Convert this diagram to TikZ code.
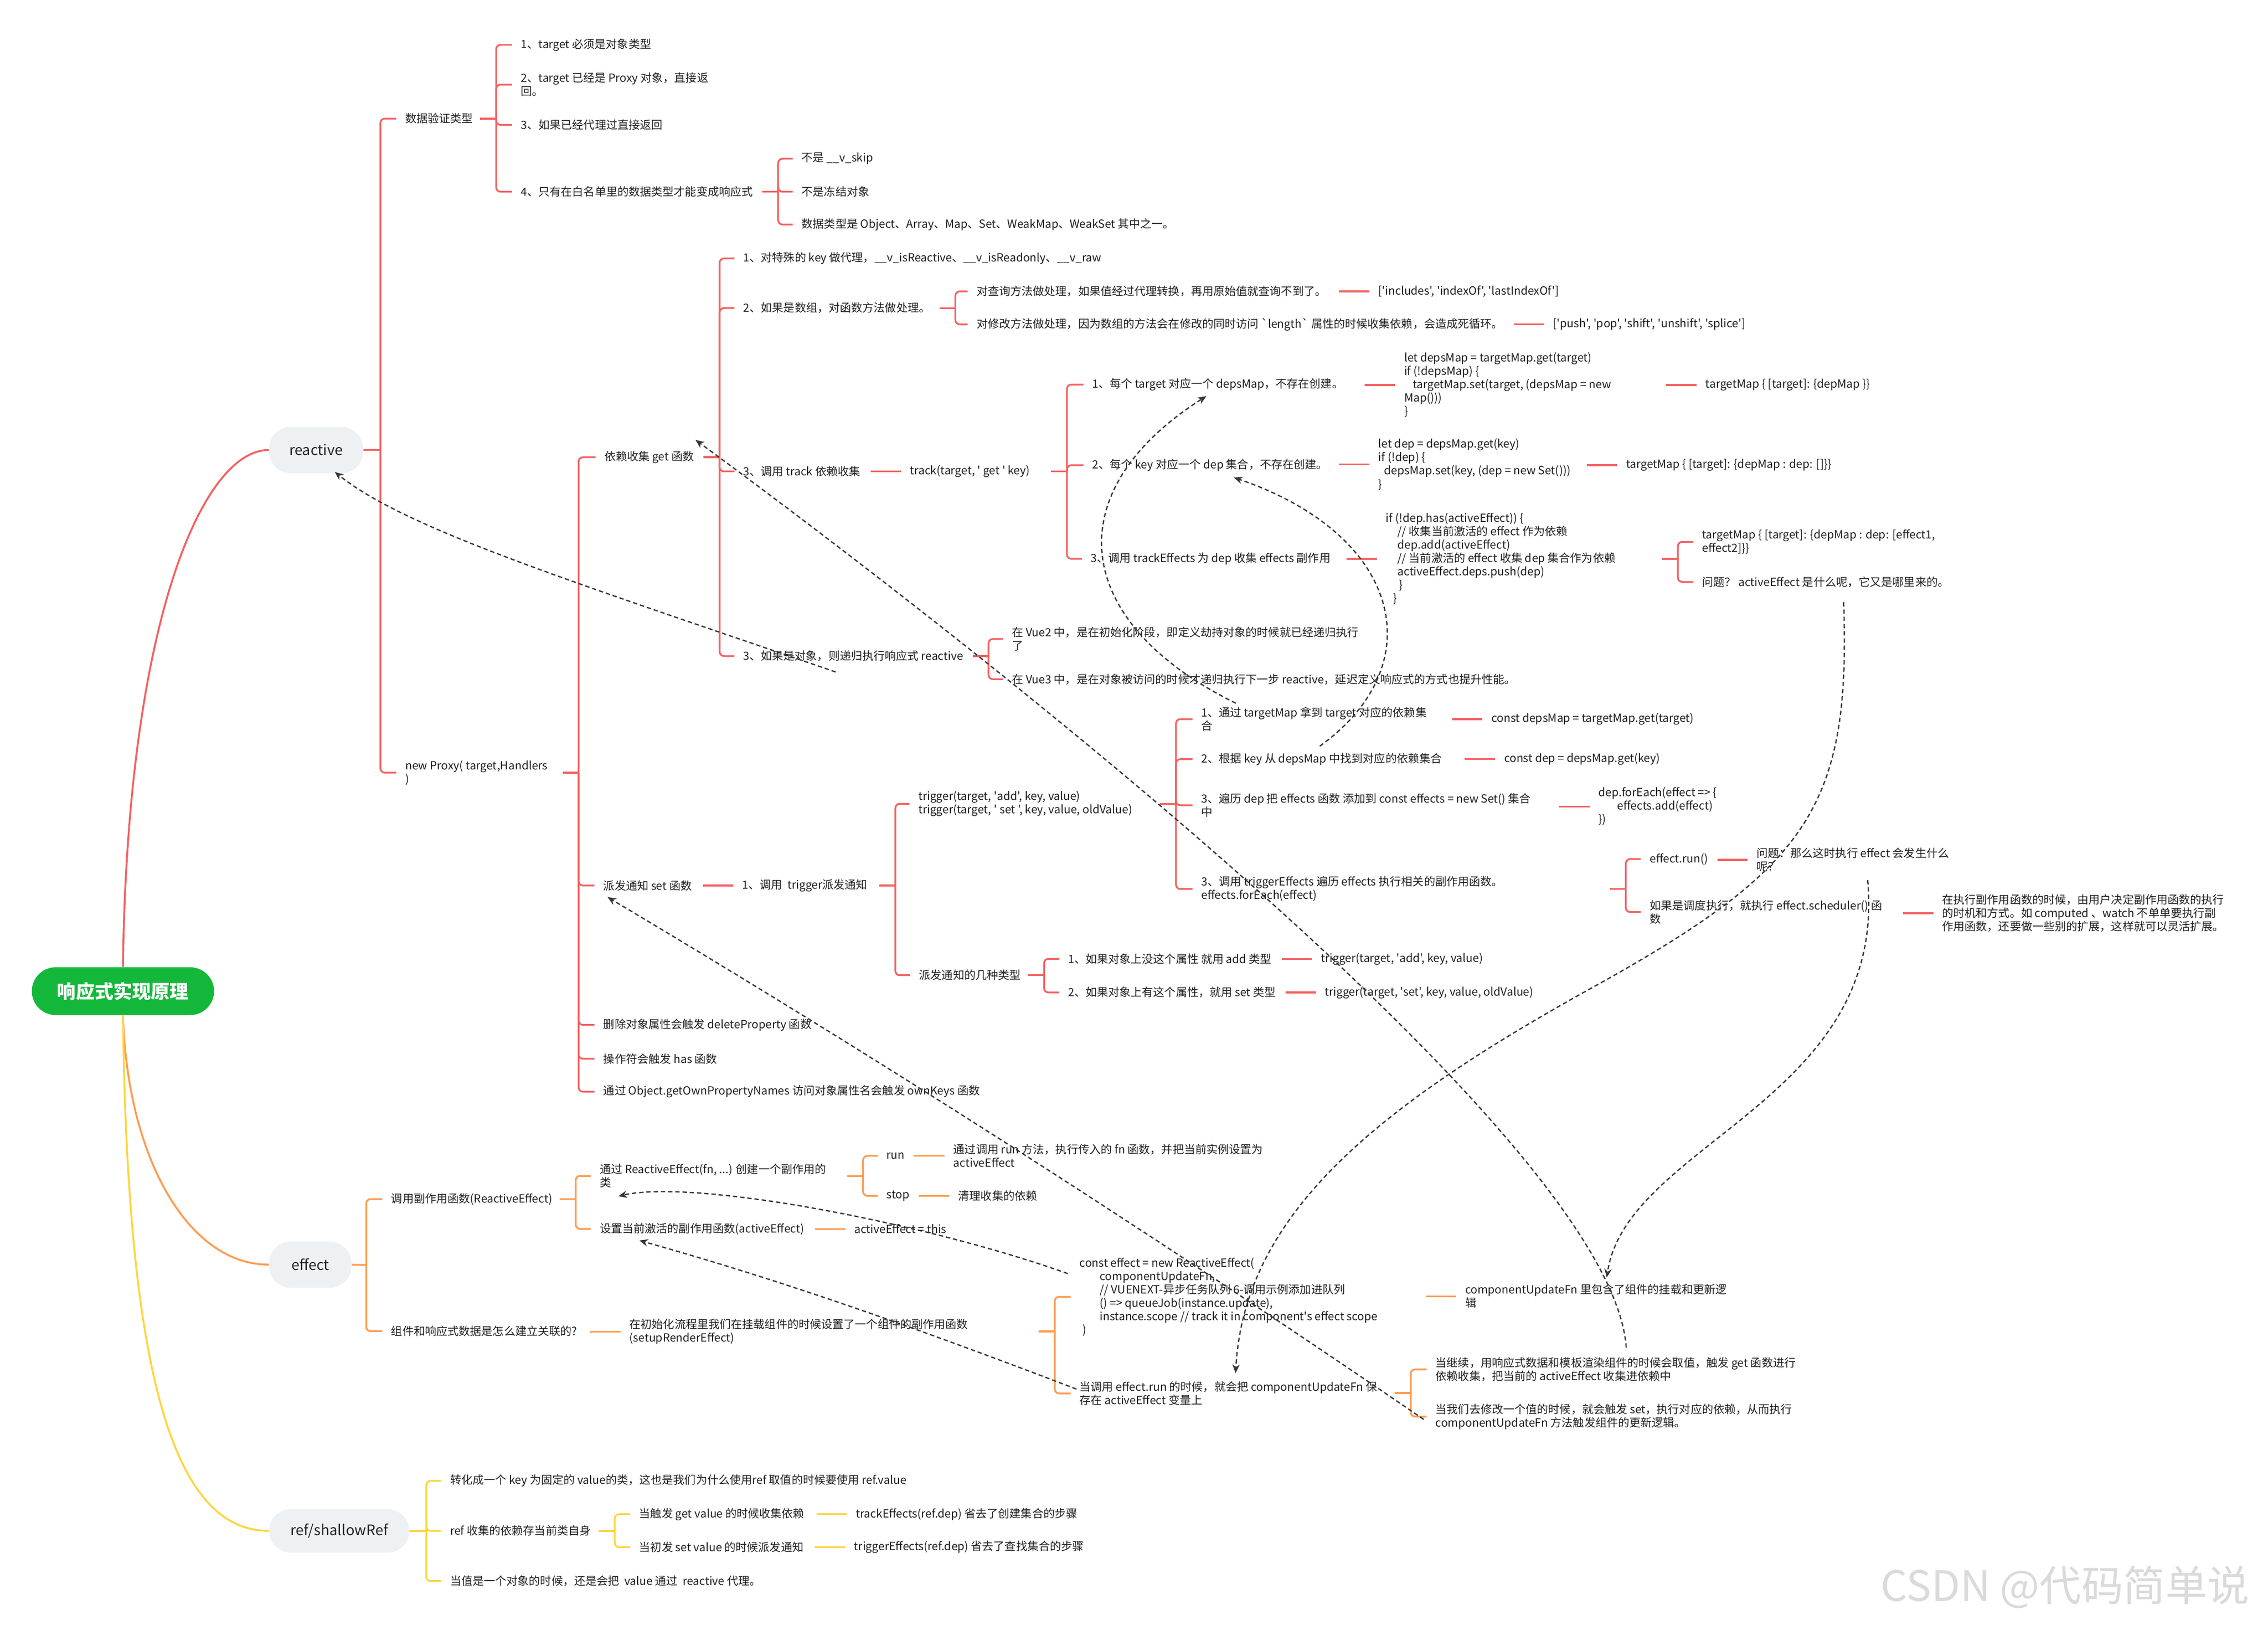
\documentclass[tikz,border=0pt]{standalone}
\usepackage{fontspec}
\setmainfont{Noto Sans CJK SC}[Ligatures=TeXOff]
\usetikzlibrary{calc,arrows.meta}
\definecolor{redl}{RGB}{245,96,96}
\definecolor{orgl}{RGB}{255,155,80}
\definecolor{yell}{RGB}{255,212,64}
\definecolor{pillg}{RGB}{238,241,244}
\definecolor{rootg}{RGB}{19,184,58}
\definecolor{relg}{RGB}{55,55,55}
\definecolor{markg}{RGB}{218,218,218}

\begin{document}
\begin{tikzpicture}[x=1pt, y=-1pt,
	txt/.style={anchor=west, inner sep=0pt, align=left, text=black!88, font=\fontsize{7.8}{9.25}\selectfont},
	pill/.style={fill=pillg, rounded corners=15pt, minimum height=31pt, inner sep=0pt, text=black!85, font=\fontsize{10}{12}\selectfont},
	rl/.style={draw=redl, line width=1.2pt, rounded corners=3pt},
	ol/.style={draw=orgl, line width=1.2pt, rounded corners=3pt},
	yl/.style={draw=yell, line width=1.2pt, rounded corners=3pt},
	rel/.style={draw=relg, line width=0.9pt, dash pattern=on 3pt off 2pt, -{Stealth[length=6pt,width=5pt]}}]
	\fill[white] (0,0) rectangle (1568,1123);
	\useasboundingbox (0,0) rectangle (1568,1123);

	\node[pill, fill=rootg, text=white, minimum width=126pt, minimum height=33pt, rounded corners=16.5pt, font=\fontsize{13}{15}\selectfont\bfseries] (root) at (85,685) {响应式实现原理};
	\node[pill, minimum width=65pt, minimum height=32pt] (reactive) at (218.5,311) {reactive};
	\node[pill, minimum width=57pt, minimum height=32pt] (effect) at (214.5,874) {effect};
	\node[pill, minimum width=97pt, minimum height=30pt] (ref) at (234.5,1058) {ref/shallowRef};

	\draw[redl, line width=1.3pt] (root.north) .. controls (88,430) and (140,311) .. (reactive.west);
	\draw[orgl, line width=1.3pt] (root.south) .. controls (88,800) and (130,874) .. (effect.west);
	\draw[yell, line width=1.3pt] (root.south) .. controls (88,950) and (120,1058) .. (ref.west);

	\node[txt] (nvalid) at (280,82) {数据验证类型};
	\node[txt] (v1) at (360,31) {1、target 必须是对象类型};
	\node[txt] (v2) at (360,58.5) {2、target 已经是 Proxy 对象，直接返\\回。};
	\node[txt] (v3) at (360,86.3) {3、如果已经代理过直接返回};
	\node[txt] (v4) at (360,132.5) {4、只有在白名单里的数据类型才能变成响应式};
	\node[txt] (w1) at (554,109.7) {不是 \_\_v\_skip};
	\node[txt] (w2) at (554,132.5) {不是冻结对象};
	\node[txt] (w3) at (554,155.2) {数据类型是 Object、Array、Map、Set、WeakMap、WeakSet 其中之一。};
	\node[txt] (nproxy) at (280,534) {new Proxy( target,Handlers\\)};

	\node[txt] (g0) at (417.8,316) {依赖收集 get 函数};
	\node[txt] (g1) at (513.8,178.6) {1、对特殊的 key 做代理，\_\_v\_isReactive、\_\_v\_isReadonly、\_\_v\_raw};
	\node[txt] (g2) at (513.8,212.9) {2、如果是数组，对函数方法做处理。};
	\node[txt] (a1) at (675,201.4) {对查询方法做处理，如果值经过代理转换，再用原始值就查询不到了。};
	\node[txt] (ai) at (952.7,201.4) {['includes', 'indexOf', 'lastIndexOf']};
	\node[txt] (a2) at (675,224.2) {对修改方法做处理，因为数组的方法会在修改的同时访问 `length` 属性的时候收集依赖，会造成死循环。};
	\node[txt] (ap) at (1073.6,224.2) {['push', 'pop', 'shift', 'unshift', 'splice']};
	\node[txt] (g3) at (513.8,325.8) {3、调用 track 依赖收集};
	\node[txt] (tk) at (629,325.8) {track(target, ' get ' key)};
	\node[txt] (t1) at (755,265.8) {1、每个 target 对应一个 depsMap，不存在创建。};
	\node[txt] (c1) at (970.6,266.1) {let depsMap = targetMap.get(target)\\if (!depsMap) \{\\\hspace*{6pt}targetMap.set(target, (depsMap = new\\Map()))\\\}};
	\node[txt] (m1) at (1179,266.1) {targetMap \{ [target]: \{depMap \}\}};
	\node[txt] (t2) at (755,321.5) {2、每个 key 对应一个 dep 集合，不存在创建。};
	\node[txt] (c2) at (952.8,321) {let dep = depsMap.get(key)\\if (!dep) \{\\\hspace*{4pt}depsMap.set(key, (dep = new Set()))\\\}};
	\node[txt] (m2) at (1124,321.5) {targetMap \{ [target]: \{depMap : dep: []\}\}};
	\node[txt] (t3) at (754,386.2) {3、调用 trackEffects 为 dep 收集 effects 副作用};
	\node[txt] (c3) at (958,386.2) {if (!dep.has(activeEffect)) \{\\\hspace*{8pt}// 收集当前激活的 effect 作为依赖\\\hspace*{8pt}dep.add(activeEffect)\\\hspace*{8pt}// 当前激活的 effect 收集 dep 集合作为依赖\\\hspace*{8pt}activeEffect.deps.push(dep)\\\hspace*{9pt}\}\\\hspace*{5pt}\}};
	\node[txt] (e1) at (1176.6,374.5) {targetMap \{ [target]: \{depMap : dep: [effect1,\\effect2]\}\}};
	\node[txt] (e2) at (1176.6,402.2) {问题？ activeEffect 是什么呢，它又是哪里来的。};
	\node[txt] (g4) at (513.7,453.4) {3、如果是对象，则递归执行响应式 reactive};
	\node[txt] (o1) at (699.6,441.6) {在 Vue2 中，是在初始化阶段，即定义劫持对象的时候就已经递归执行\\了};
	\node[txt] (o2) at (699.6,469.4) {在 Vue3 中，是在对象被访问的时候才递归执行下一步 reactive，延迟定义响应式的方式也提升性能。};

	\node[txt] (s0) at (417,612) {派发通知 set 函数};
	\node[txt] (s1) at (513,612) {1、调用 \ trigger派发通知};
	\node[txt] (tr) at (634.7,555.5) {trigger(target, 'add', key, value)\\trigger(target, ' set ', key, value, oldValue)};
	\node[txt] (q1) at (830.4,497) {1、通过 targetMap 拿到 target 对应的依赖集\\合};
	\node[txt] (q1c) at (1030.9,497) {const depsMap = targetMap.get(target)};
	\node[txt] (q2) at (830.4,524.7) {2、根据 key 从 depsMap 中找到对应的依赖集合};
	\node[txt] (q2c) at (1039.7,524.7) {const dep = depsMap.get(key)};
	\node[txt] (q3) at (830.4,556.5) {3、遍历 dep 把 effects 函数 添加到 const effects = new Set() 集合\\中};
	\node[txt] (q3c) at (1105,557.4) {dep.forEach(effect => \{\\\hspace*{13pt}effects.add(effect)\\\})};
	\node[txt] (q4) at (830.4,614.4) {3、调用 triggerEffects 遍历 effects 执行相关的副作用函数。\\effects.forEach(effect)};
	\node[txt] (r1) at (1140.4,593.7) {effect.run()};
	\node[txt] (r1c) at (1214.2,594.2) {问题：那么这时执行 effect 会发生什么\\呢？};
	\node[txt] (r2) at (1140.4,630.3) {如果是调度执行，就执行 effect.scheduler() 函\\数};
	\node[txt] (r2c) at (1342.5,631.2) {在执行副作用函数的时候，由用户决定副作用函数的执行\\的时机和方式。如 computed 、watch 不单单要执行副\\作用函数，还要做一些别的扩展，这样就可以灵活扩展。};
	\node[txt] (kd) at (635.3,674) {派发通知的几种类型};
	\node[txt] (k1) at (738.3,662.7) {1、如果对象上没这个属性 就用 add 类型};
	\node[txt] (k1c) at (913,662.7) {trigger(target, 'add', key, value)};
	\node[txt] (k2) at (738.3,685.9) {2、如果对象上有这个属性，就用 set 类型};
	\node[txt] (k2c) at (915.7,685.9) {trigger(target, 'set', key, value, oldValue)};
	\node[txt] (d1) at (417,708.3) {删除对象属性会触发 deleteProperty 函数};
	\node[txt] (d2) at (417,731.7) {操作符会触发 has 函数};
	\node[txt] (d3) at (417,754.5) {通过 Object.getOwnPropertyNames 访问对象属性名会触发 ownKeys 函数};

	\node[txt] (f0) at (270.3,828.7) {调用副作用函数(ReactiveEffect)};
	\node[txt] (f1) at (414.5,812.7) {通过 ReactiveEffect(fn, ...) 创建一个副作用的\\类};
	\node[txt] (fr) at (612.8,798.8) {run};
	\node[txt] (frc) at (659,798.8) {通过调用 run 方法，执行传入的 fn 函数，并把当前实例设置为\\activeEffect};
	\node[txt] (fs) at (612.8,826.5) {stop};
	\node[txt] (fsc) at (662.3,826.5) {清理收集的依赖};
	\node[txt] (f2) at (414.5,849.3) {设置当前激活的副作用函数(activeEffect)};
	\node[txt] (f2c) at (590.5,849.3) {activeEffect = this};
	\node[txt] (h0) at (270.3,920) {组件和响应式数据是怎么建立关联的?};
	\node[txt] (h1) at (435,920.4) {在初始化流程里我们在挂载组件的时候设置了一个组件的副作用函数\\(setupRenderEffect)};
	\node[txt] (ce) at (746.2,896.2) {const effect = new ReactiveEffect(\\\hspace*{14pt}componentUpdateFn,\\\hspace*{14pt}// VUENEXT-异步任务队列 6-调用示例添加进队列\\\hspace*{14pt}() => queueJob(instance.update),\\\hspace*{14pt}instance.scope // track it in component's effect scope\\\hspace*{2pt})};
	\node[txt] (cu) at (1012.8,895.9) {componentUpdateFn 里包含了组件的挂载和更新逻\\辑};
	\node[txt] (er) at (746.2,963) {当调用 effect.run 的时候，就会把 componentUpdateFn 保\\存在 activeEffect 变量上};
	\node[txt] (er1) at (992.3,946.4) {当继续，用响应式数据和模板渲染组件的时候会取值，触发 get 函数进行\\依赖收集，把当前的 activeEffect 收集进依赖中};
	\node[txt] (er2) at (992.3,979) {当我们去修改一个值的时候，就会触发 set，执行对应的依赖，从而执行\\componentUpdateFn 方法触发组件的更新逻辑。};

	\node[txt] (y1) at (311,1023.4) {转化成一个 key 为固定的 value的类，这也是我们为什么使用ref 取值的时候要使用 ref.value};
	\node[txt] (y2) at (311,1058) {ref 收集的依赖存当前类自身};
	\node[txt] (y21) at (441.7,1046.5) {当触发 get value 的时候收集依赖};
	\node[txt] (y21c) at (591.5,1046.5) {trackEffects(ref.dep) 省去了创建集合的步骤};
	\node[txt] (y22) at (441.7,1069.3) {当初发 set value 的时候派发通知};
	\node[txt] (y22c) at (590.3,1069.3) {triggerEffects(ref.dep) 省去了查找集合的步骤};
	\node[txt] (y3) at (311,1092.7) {当值是一个对象的时候，还是会把 \ value 通过 \ reactive 代理。};

	\node[anchor=west, inner sep=0pt, text=markg, font=\fontsize{29}{32}\selectfont] (mark) at (1300,1097) {CSDN @代码简单说};

	\coordinate (bkR) at (263,311);
	\coordinate (bkV) at (343,82);
	\coordinate (bkW) at (538,132.5);
	\coordinate (bkP) at (400,534);
	\coordinate (bkG) at (497.5,316);
	\coordinate (bkA) at (660.5,213);
	\coordinate (bkT) at (737.6,325.8);
	\coordinate (bkTE) at (1160,386.2);
	\coordinate (bkO) at (683.4,453.4);
	\coordinate (bkS) at (619,612);
	\coordinate (bkS2) at (813,555.5);
	\coordinate (bkRun) at (1124,614.4);
	\coordinate (bkK) at (721.8,674);
	\coordinate (bkE) at (253.2,874.3);
	\coordinate (bkRE) at (398,828.7);
	\coordinate (bkRS) at (596.7,812.7);
	\coordinate (bkCE) at (729.2,920.2);
	\coordinate (bkR2) at (975.3,962.7);
	\coordinate (bkF) at (294.7,1058);
	\coordinate (bkRD) at (425,1058);

	\draw[rl] (reactive.east) -- (bkR);
	\draw[ol] (effect.east) -- (bkE);
	\draw[yl] (ref.east) -- (bkF);
	\foreach \b in {bkV,bkW,bkP,bkG,bkA,bkT,bkTE,bkO,bkS,bkS2,bkRun,bkK}
		\draw[rl] (\b) -- +(-11,0);
	\foreach \b in {bkRE,bkRS,bkCE,bkR2}
		\draw[ol] (\b) -- +(-11,0);
	\draw[yl] (bkRD) -- +(-11,0);

	\foreach \b/\l in {bkR/{nvalid,nproxy}, bkV/{v1,v2,v3,v4}, bkW/{w1,w2,w3}, bkP/{g0,s0,d1,d2,d3}, bkG/{g1,g2,g3,g4}, bkA/{a1,a2}, bkT/{t1,t2,t3}, bkTE/{e1,e2}, bkO/{o1,o2}, bkS/{tr,kd}, bkS2/{q1,q2,q3,q4}, bkRun/{r1,r2}, bkK/{k1,k2}}
		\foreach \c in \l
			\draw[rl] (\b) |- ([xshift=-6pt]\c.west);
	\foreach \b/\l in {bkE/{f0,h0}, bkRE/{f1,f2}, bkRS/{fr,fs}, bkCE/{ce,er}, bkR2/{er1,er2}}
		\foreach \c in \l
			\draw[ol] (\b) |- ([xshift=-6pt]\c.west);
	\foreach \b/\l in {bkF/{y1,y2,y3}, bkRD/{y21,y22}}
		\foreach \c in \l
			\draw[yl] (\b) |- ([xshift=-6pt]\c.west);

	\foreach \c in {ai,ap,tk,c1,m1,c2,m2,c3,s1,q1c,q2c,q3c,r1c,r2c,k1c,k2c}
		\draw[rl] ([xshift=-27pt]\c.west) -- ([xshift=-6pt]\c.west);
	\foreach \c in {frc,fsc,f2c,h1,cu}
		\draw[ol] ([xshift=-27pt]\c.west) -- ([xshift=-6pt]\c.west);
	\foreach \c in {y21c,y22c}
		\draw[yl] ([xshift=-27pt]\c.west) -- ([xshift=-6pt]\c.west);

	\draw[rel] ($(g4.west)+(64,11)$) .. controls +(-180,-62) and +(50,40) .. ($(reactive.south)+(13,-1)$);
	\draw[rel] ($(er1.west)+(132,-15)$) .. controls +(-10,-150) and +(150,110) .. ($(g0.west)+(63,-12)$);
	\draw[rel] ($(e2.west)+(98,14)$) .. controls +(5,142) and +(150,-83) .. (1100,683) .. controls +(-150,83) and +(6,-109) .. ($(er.west)+(108,-14)$);
	\draw[rel] ($(r1c.west)+(77,14)$) .. controls +(14,152) and +(14,-93) .. ($(cu.west)+(98,-13)$);
	\draw[rel] ($(q1.west)+(24,-11)$) .. controls +(-114,-56) and +(-104,66) .. ($(t1.west)+(79,8)$);
	\draw[rel] ($(q2.west)+(82,-9)$) .. controls +(78,-56) and +(117,40) .. ($(t2.west)+(98,8.5)$);
	\draw[rel] ($(ce.west)+(-8,-16)$) .. controls +(-98,-35) and +(53,-12) .. ($(f1.west)+(13,14)$);
	\draw[rel] ($(er.west)+(-2,-3)$) .. controls +(-110,-42) and +(100,28) .. ($(f2.west)+(27.5,8)$);
	\draw[rel] ($(er2.west)+(-8,2)$) .. controls +(-190,-130) and +(185,110) .. ($(s0.west)+(3,8)$);
\end{tikzpicture}
\end{document}
